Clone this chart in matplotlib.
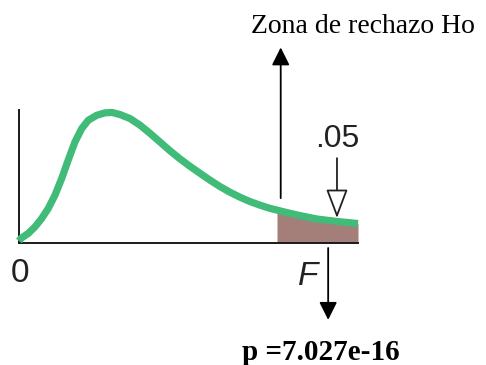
import matplotlib
matplotlib.use("Agg")
import matplotlib.pyplot as plt

# F-distribution curve (F value, density)
f_values = [0.000, 0.029, 0.137, 0.236, 0.335, 0.432, 0.531, 0.630, 0.727, 0.826,
            0.925, 1.022, 1.146, 1.268, 1.372, 1.490, 1.637, 1.785, 1.932, 2.080,
            2.227, 2.375, 2.522, 2.670, 2.817, 2.965, 3.112, 3.260, 3.407, 3.555,
            3.702, 3.805, 3.997, 4.145, 4.395, 4.690, 5.000]
density = [0.009, 0.023, 0.049, 0.084, 0.128, 0.181, 0.251, 0.339, 0.437, 0.532,
           0.602, 0.646, 0.672, 0.685, 0.687, 0.676, 0.655, 0.620, 0.577, 0.531,
           0.485, 0.442, 0.403, 0.366, 0.330, 0.296, 0.266, 0.240, 0.217, 0.198,
           0.181, 0.172, 0.155, 0.143, 0.125, 0.112, 0.101]
f_critical = 3.805
alpha_label = ".05"
p_label = "p =7.027e-16"
zone_label = "Zona de rechazo Ho"

GREEN = "#40bb78"
BROWN = "#a47e78"

W, H = 486, 365
fig = plt.figure(figsize=(W / 100, H / 100), dpi=100)
ax = fig.add_axes([19 / W, (H - 242.7) / H, 339 / W, (242.7 - 110) / H])
ax.set_xlim(0, 5)
ax.set_ylim(0, 0.70)
for s in ("top", "right"):
    ax.spines[s].set_visible(False)
for s in ("left", "bottom"):
    ax.spines[s].set_linewidth(1.4)
    ax.spines[s].set_color("#1a1a1a")
ax.set_xticks([])
ax.set_yticks([])
ax.patch.set_alpha(0)

# shaded rejection region
tail_x = [x for x in f_values if x >= f_critical]
tail_y = [y for x, y in zip(f_values, density) if x >= f_critical]
ax.fill_between(tail_x, 0, tail_y, color=BROWN, lw=0, zorder=2)

# curve
ax.plot(f_values, density, color=GREEN, lw=5.2, solid_capstyle="butt",
        solid_joinstyle="round", clip_on=False, zorder=3)

# rejection-zone arrow (up)
ax.annotate("", xy=(3.86, 1.03), xytext=(3.86, 0.235), xycoords="data",
            annotation_clip=False,
            arrowprops=dict(arrowstyle="-|>,head_length=0.4,head_width=0.2",
                            mutation_scale=27, color="black", lw=1.3,
                            shrinkA=0, shrinkB=0))

# hollow arrow for .05
ax.annotate("", xy=(4.69, 0.13), xytext=(4.69, 0.446), xycoords="data",
            annotation_clip=False,
            arrowprops=dict(arrowstyle="-|>,head_length=1.8,head_width=0.68",
                            mutation_scale=10, fc="white", ec="#222222", lw=1.3,
                            shrinkA=0, shrinkB=0))

# down arrow from F to p
ax.annotate("", xy=(4.56, -0.407), xytext=(4.56, -0.028), xycoords="data",
            annotation_clip=False,
            arrowprops=dict(arrowstyle="-|>,head_length=0.4,head_width=0.2",
                            mutation_scale=27, color="black", lw=1.3,
                            shrinkA=0, shrinkB=0))

sans = ["Liberation Sans", "DejaVu Sans"]
serif = ["Liberation Serif", "DejaVu Serif"]

fig.text(337 / W, 1 - 147 / H, alpha_label, fontsize=23, family=sans,
         ha="center", va="baseline", color="#222222")
fig.text(20 / W, 1 - 282 / H, "0", fontsize=24, family=sans,
         ha="center", va="baseline", color="#222222")
fig.text(308 / W, 1 - 285 / H, "F", fontsize=24, family=sans, style="italic",
         ha="center", va="baseline", color="#222222")
fig.text(362.5 / W, 1 - 33 / H, zone_label, fontsize=20, family=serif,
         ha="center", va="baseline", color="black")
fig.text(321 / W, 1 - 360 / H, p_label, fontsize=21, family=serif, weight="bold",
         ha="center", va="baseline", color="black")

fig.savefig("out.png", dpi=100)
